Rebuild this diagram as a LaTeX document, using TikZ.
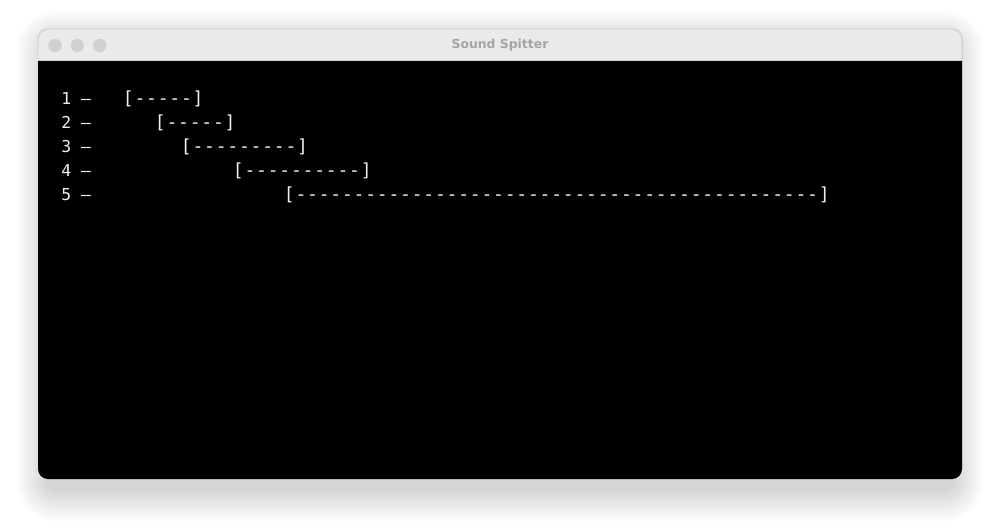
\documentclass[tikz,border=0pt]{standalone}
\usepackage{fontspec}
\setmonofont{DejaVu Sans Mono}
\newfontfamily\titlefont{DejaVu Sans}
\usetikzlibrary{positioning}
\definecolor{titlebar}{RGB}{233, 235, 234}
\definecolor{titlegray}{RGB}{164, 164, 164}
\definecolor{dotgray}{RGB}{208, 208, 208}
\definecolor{edgegray}{RGB}{205, 207, 206}
\definecolor{termtext}{RGB}{240, 240, 240}

\tikzset{
    rowlabel/.style={anchor=base west, inner sep=0pt, text=termtext, font=\ttfamily\fontsize{8.2pt}{9pt}\selectfont},
    rowbar/.style={anchor=base west, inner sep=0pt, text=termtext, font=\ttfamily\fontsize{9pt}{10pt}\selectfont\addfontfeature{LetterSpace=4.4}},
    winbox/.style={rounded corners=5pt}
}

\begin{document}
\begin{tikzpicture}[x=0.5pt, y=-0.5pt]
                    \useasboundingbox (0,0) rectangle (1000,527);

                    % shadow
                    \foreach \s in {0,1.5,...,30}
                        \fill[black, opacity=0.008, rounded corners={5pt+\s*0.5pt}] ({46-\s},{41-\s}) rectangle ({954+\s},{491+\s});

                    \fill[black, winbox] (38,29) rectangle (962,479);
                    \begin{scope}
                        \clip (37,28) rectangle (963,60);
                        \fill[titlebar, winbox] (38,29) rectangle (962,90);
                    \end{scope}
                    \draw[edgegray, line width=0.5pt] (38,60.5) -- (962,60.5);
                    \draw[edgegray, line width=0.4pt, winbox] (38,60) -- (38,29) -- (962,29) -- (962,60);

                    \fill[dotgray] (55,45.5) circle (6.7);
                    \fill[dotgray] (77.3,45.5) circle (6.7);
                    \fill[dotgray] (99.8,45.5) circle (6.7);

                    \node[titlegray, font=\titlefont\bfseries\fontsize{6.2pt}{7pt}\selectfont] (title) at (500,45) {Sound Spitter};

                    \node[rowlabel] (lab1) at (61,104) {1 –};
                    \node[rowlabel] (lab2) at (61,128) {2 –};
                    \node[rowlabel] (lab3) at (61,152) {3 –};
                    \node[rowlabel] (lab4) at (61,176) {4 –};
                    \node[rowlabel] (lab5) at (61,200) {5 –};

                    \node[rowbar] (bar1) at (122.5,104) {[-----]};
                    \node[rowbar] (bar2) at (154.5,128) {[-----]};
                    \node[rowbar] (bar3) at (180.5,152) {[---------]};
                    \node[rowbar] (bar4) at (232.5,176) {[----------]};
                    \node[rowbar] (bar5) at (283.5,200) {[---------------------------------------------]};
                \end{tikzpicture}
\end{document}
